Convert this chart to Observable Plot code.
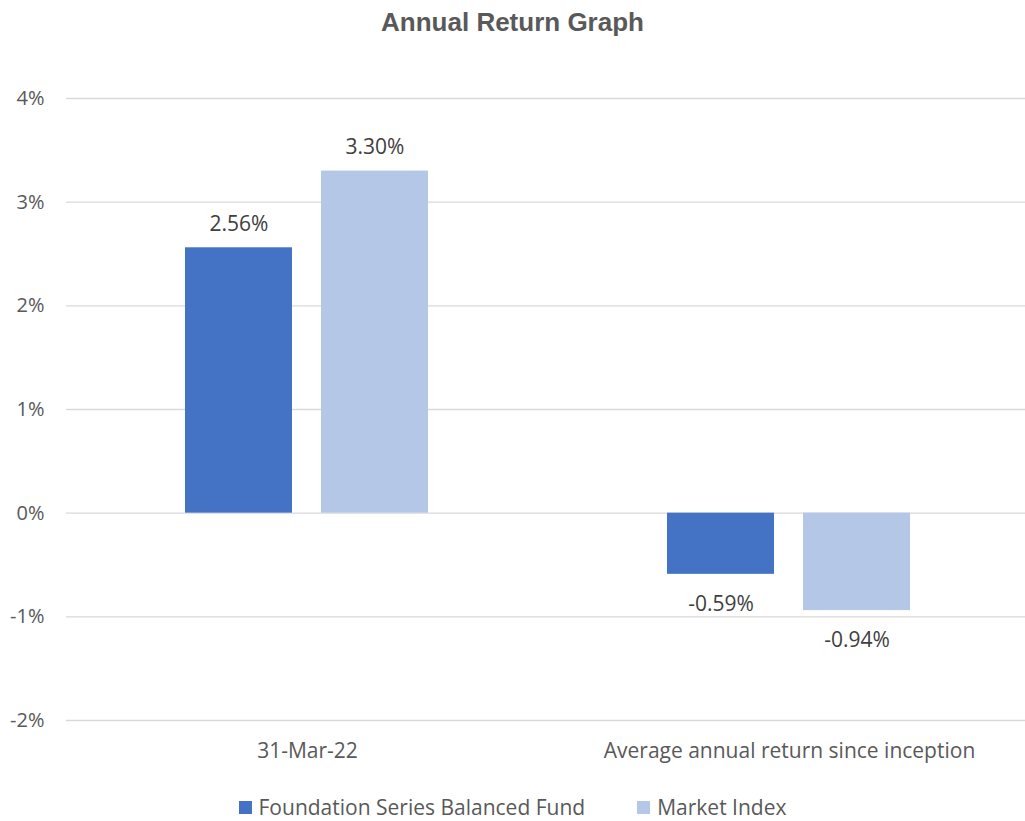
<!DOCTYPE html>
<html>
<head>
<meta charset="utf-8">
<script src="https://cdn.jsdelivr.net/npm/d3@7"></script>
<script src="https://cdn.jsdelivr.net/npm/@observablehq/plot@0.6"></script>
<style>
  html, body { margin: 0; padding: 0; background: #fff; overflow: hidden; }
  #wrap { position: relative; width: 1025px; height: 821px; overflow: hidden; font-family: "Open Sans", sans-serif; }
  #title { position: absolute; top: 7px; left: 0; width: 1025px; text-align: center; font-family: "Liberation Sans", Arial, sans-serif; font-weight: bold; font-size: 26px; color: #595959; }
  #chart { position: absolute; top: 0; left: 0; }
  #chart svg { max-width: none !important; }
  #legend { position: absolute; top: 793px; left: 0; width: 1025px; display: flex; justify-content: center; gap: 52px; font-size: 21px; line-height: 28px; color: #595959; }
  #legend span.item { display: inline-flex; align-items: center; }
  #legend span.sw { display: inline-block; width: 13px; height: 13px; margin-right: 7px; }
</style>
</head>
<body>
<div id="wrap">
  <div id="title">Annual Return Graph</div>
  <div id="chart"></div>
  <div id="legend"></div>
</div>
<script>
const categories = ["31-Mar-22", "Average annual return since inception"];
const seriesNames = ["Foundation Series Balanced Fund", "Market Index"];
const fundValues = [2.56, -0.59];
const indexValues = [3.30, -0.94];
const seriesColors = ["#4472C4", "#B4C7E7"];
const yTicks = [-2, -1, 0, 1, 2, 3, 4];

const data = [];
categories.forEach((c, i) => {
  data.push({category: c, series: seriesNames[0], value: fundValues[i]});
  data.push({category: c, series: seriesNames[1], value: indexValues[i]});
});
const fmt = v => v.toFixed(2) + "%";

const chart = Plot.plot({
  width: 1031,
  height: 770,
  marginTop: 98,
  marginBottom: 50,
  marginLeft: 66,
  marginRight: 1,
  style: {fontFamily: "'Open Sans', sans-serif", fontSize: "20px", color: "#595959", background: "transparent", maxWidth: "none"},
  fx: {domain: categories, padding: 0, label: null, axis: "bottom", tickSize: 0, tickPadding: 23},
  x: {domain: seriesNames, axis: null, paddingInner: 0.21, paddingOuter: 0.87},
  y: {domain: [-2, 4], ticks: yTicks, tickFormat: d => d + "%", label: null, tickSize: 0, tickPadding: 22},
  color: {domain: seriesNames, range: seriesColors},
  marks: [
    Plot.ruleY(yTicks, {stroke: "#D9D9D9", strokeWidth: 1.3}),
    Plot.barY(data, {fx: "category", x: "series", y: "value", fill: "series"}),
    Plot.text(data.filter(d => d.value >= 0), {fx: "category", x: "series", y: "value", text: d => fmt(d.value), dy: -24, fill: "#404040", fontSize: 21}),
    Plot.text(data.filter(d => d.value < 0), {fx: "category", x: "series", y: "value", text: d => fmt(d.value), dy: 30, fill: "#404040", fontSize: 21})
  ]
});
chart.querySelectorAll("g[aria-label='fx-axis tick label'] text, g[aria-label='fx-axis tick label']").forEach(el => el.setAttribute("font-size", 21));
document.getElementById("chart").appendChild(chart);

const legend = document.getElementById("legend");
seriesNames.forEach((s, i) => {
  const item = document.createElement("span");
  item.className = "item";
  const sw = document.createElement("span");
  sw.className = "sw";
  sw.style.background = seriesColors[i];
  item.appendChild(sw);
  item.appendChild(document.createTextNode(s));
  legend.appendChild(item);
});
</script>
</body>
</html>
